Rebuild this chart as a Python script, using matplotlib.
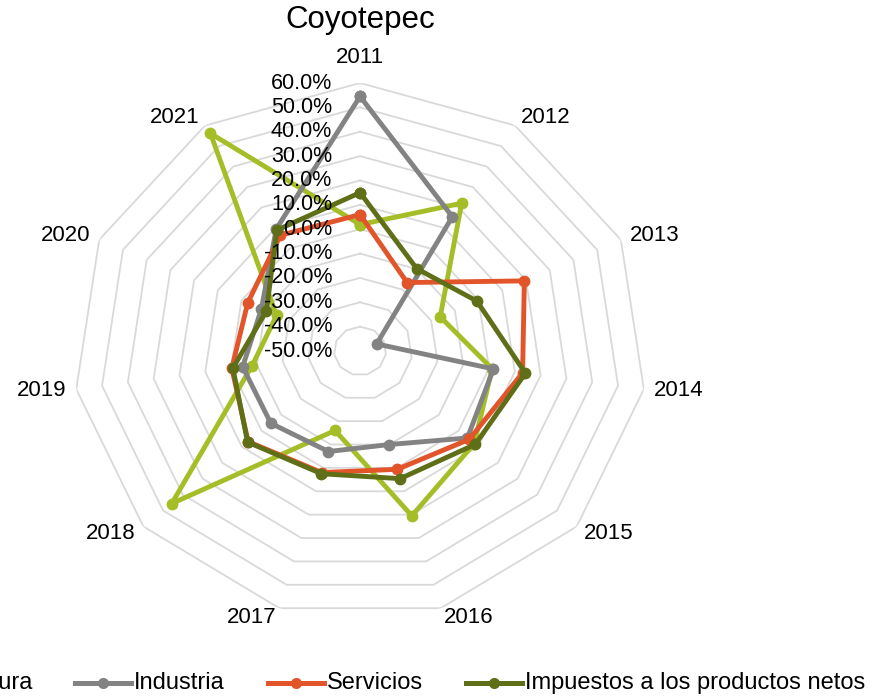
import numpy as np
import matplotlib
matplotlib.use('Agg')
import matplotlib.pyplot as plt
from matplotlib.lines import Line2D
from matplotlib.transforms import ScaledTranslation

plt.rcParams['font.family'] = ['Liberation Sans', 'DejaVu Sans']

# ---------------- data ----------------
title = 'Coyotepec'
years = ['2011', '2012', '2013', '2014', '2015', '2016',
         '2017', '2018', '2019', '2020', '2021']
agricultura = [1.9, 22.1, -16.2, 1.2, 8.0, 20.5, -16.0, 45.6, -8.2, -14.8, 56.2]
industria = [54.5, 15.5, -43.0, 1.7, 4.5, -10.0, -7.0, -4.7, -4.5, -8.4, 9.5]
servicios = [6.0, -16.6, 19.3, 13.0, 5.4, 0.6, 2.0, 6.8, -0.3, -2.6, 6.5]
impuestos = [15.0, -9.8, -0.7, 14.1, 8.5, 4.6, 2.5, 7.1, -0.7, -10.5, 9.0]
series_names = ['Agricultura', 'Industria', 'Servicios',
                'Impuestos a los productos netos']
r_ticks = [-50, -40, -30, -20, -10, 0, 10, 20, 30, 40, 50, 60]

# ---------------- style ----------------
colors = ['#A5BD27', '#838383', '#E2542A', '#5E6F18']
grid_color = '#D9D9D9'

fig = plt.figure(figsize=(8.72, 7.0), dpi=100)
fig.patch.set_facecolor('white')
ax = fig.add_axes([0.0841, 0.1157, 0.6576, 0.7657], projection='polar')
ax.set_aspect('auto')
ax.set_theta_zero_location('N')
ax.set_theta_direction(-1)
ax.set_ylim(r_ticks[0], r_ticks[-1])
ax.grid(False)
ax.spines['polar'].set_visible(False)
ax.set_xticks([])
ax.set_yticks([])
ax.patch.set_alpha(0)

n = len(years)
theta = np.arange(n) * 2 * np.pi / n
theta_c = np.append(theta, theta[0])

# polygon grid rings
for v in r_ticks[1:]:
    ax.plot(theta_c, [v] * (n + 1), color=grid_color, lw=1.3, zorder=1)

# series
all_series = [agricultura, industria, servicios, impuestos]
for i, (vals, col) in enumerate(zip(all_series, colors)):
    vc = list(vals) + [vals[0]]
    ax.plot(theta_c, vc, color=col, lw=3.5, marker='o', ms=8.5,
            markeredgewidth=0, solid_joinstyle='round', zorder=3 + i)

# radial tick labels
tick_tr = ax.transData + ScaledTranslation(-0.28, 0, fig.dpi_scale_trans)
for v in r_ticks:
    ax.text(0, v, f'{v:.1f}%', transform=tick_tr, ha='right', va='center',
            fontsize=15.5, color='#000000', zorder=10)

# category labels
gap = 10
for k, lab in enumerate(years):
    s, c = np.sin(theta[k]), np.cos(theta[k])
    if abs(s) < 0.1:
        ha = 'center'
        va = 'bottom' if c > 0 else 'top'
        off = (0, 15 if c > 0 else -15)
    else:
        ha = 'left' if s > 0 else 'right'
        va = 'center'
        off = (s * gap, c * gap)
    ax.annotate(lab, xy=(theta[k], r_ticks[-1]), xytext=off,
                textcoords='offset pixels', ha=ha, va=va, fontsize=16,
                color='#000000', annotation_clip=False)

# title
fig.text(360 / 872, 1 - 20 / 700, title, ha='center', va='center',
         fontsize=22.5, color='#000000')

# legend (manual, reproduces the cropped legend row)
leg_y = 1 - 683 / 700
leg_items = [(-150, -94), (75, 131), (268, 324), (466, 522)]  # line x0,x1 px
for name, col, (x0, x1) in zip(series_names, colors, leg_items):
    fig.add_artist(Line2D([x0 / 872, x1 / 872], [leg_y, leg_y], color=col,
                          lw=3.6, transform=fig.transFigure))
    fig.add_artist(Line2D([(x0 + x1) / 2 / 872], [leg_y], color=col,
                          marker='o', ms=8, markeredgewidth=0,
                          transform=fig.transFigure))
for name, x, ha in [(series_names[0], 33, 'right'), (series_names[1], 134, 'left'),
                    (series_names[2], 327, 'left'), (series_names[3], 525, 'left')]:
    fig.text(x / 872, leg_y, name, ha=ha, va='center', fontsize=17,
             color='#000000')

fig.savefig('out.png', dpi=100, facecolor='white')
